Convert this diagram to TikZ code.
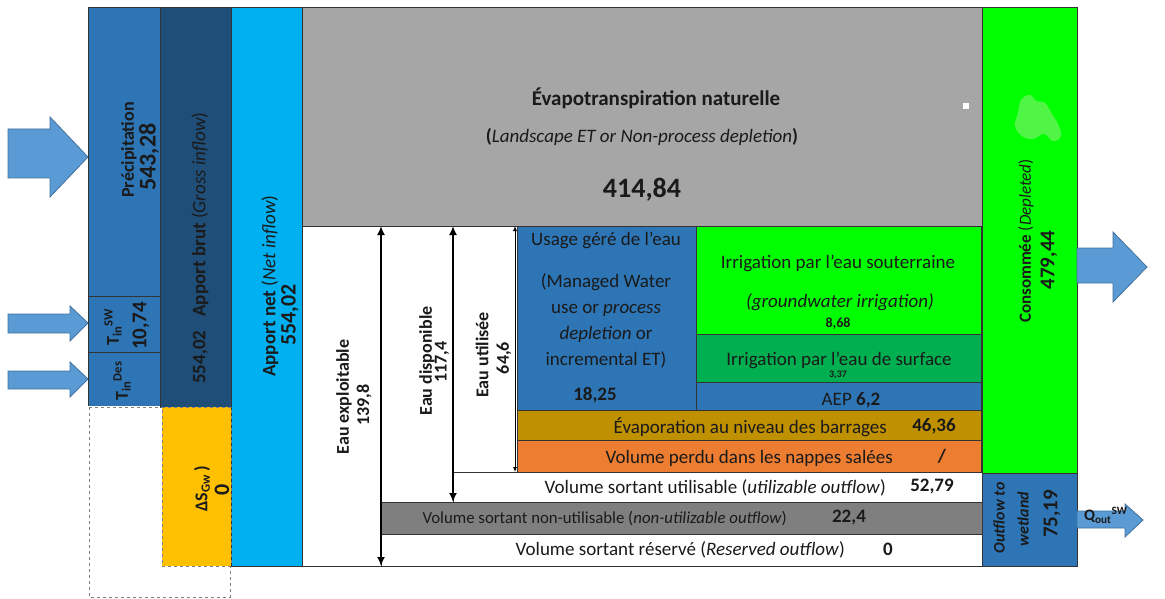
\documentclass[tikz,border=0pt]{standalone}
\usepackage{fontspec}
\setmainfont{Carlito}
\usetikzlibrary{arrows.meta,fit}

\definecolor{cBlue}{HTML}{2E75B6}
\definecolor{cNavy}{HTML}{1F4E79}
\definecolor{cSky}{HTML}{00B0F0}
\definecolor{cGray}{HTML}{A6A6A6}
\definecolor{cLime}{HTML}{00FF00}
\definecolor{cGreen}{HTML}{00B050}
\definecolor{cGold}{HTML}{BF9000}
\definecolor{cOrange}{HTML}{ED7D31}
\definecolor{cDark}{HTML}{7F7F7F}
\definecolor{cYellow}{HTML}{FFC000}
\definecolor{cArrow}{HTML}{5B9BD5}
\definecolor{cArrowLine}{HTML}{41719C}
\definecolor{cEdge}{HTML}{333333}
\definecolor{cInk}{HTML}{1A1A1A}
\definecolor{cBlob}{RGB}{80,245,70}

\newcommand{\setfs}[1]{\fontsize{#1}{#1}\selectfont}

\begin{document}
\begin{tikzpicture}[x=1pt,y=-1pt,
  cell/.style={draw=cEdge, line width=0.8pt, inner sep=0pt},
  lbl/.style={inner sep=0pt, text=cInk, font=\setfs{19}},
  vlbl/.style={lbl, rotate=90},
  val/.style={inner sep=0pt, text=cInk, font=\setfs{19}\bfseries},
  blockarrow/.style={fill=cArrow, draw=cArrowLine, line width=0.8pt, line join=miter},
  dashbox/.style={draw=gray, dashed, line width=0.9pt},
  bigdbl/.style={{Latex[length=9pt,width=8pt]}-{Latex[length=9pt,width=8pt]}, line width=2.4pt, draw=black},
  smalldbl/.style={{Latex[length=5pt,width=4pt]}-{Latex[length=5pt,width=4pt]}, line width=0.8pt, draw=black}
]
\fill[white] (0,0) rectangle (1165,599);
\useasboundingbox (0,0) rectangle (1165,599);

% ---------- inflow arrows ----------
\draw[blockarrow] (8,129) -- (50,129) -- (50,117) -- (88,157) -- (50,197) -- (50,178) -- (8,178) -- cycle;
\draw[blockarrow] (8,314) -- (70,314) -- (70,306) -- (88,323) -- (70,341) -- (70,333) -- (8,333) -- cycle;
\draw[blockarrow] (8,371) -- (70,371) -- (70,362) -- (88,379) -- (70,397) -- (70,389) -- (8,389) -- cycle;

% ---------- inflow columns ----------
\node[cell, fill=cBlue, fit={(88,7)(160,296)}] (prec) {};
\node[cell, fill=cBlue, fit={(88,296)(160,352)}] (tsw) {};
\node[cell, fill=cBlue, fit={(88,352)(160,407)}] (tdes) {};
\node[cell, fill=cNavy, fit={(160,7)(231,407)}] (gross) {};
\node[cell, fill=cSky, fit={(231,7)(302,566)}] (net) {};

% groundwater storage change (dashed)
\draw[white, line width=1.2pt] (88,407) -- (160,407);
\draw[dashbox] (89,407) -- (89,597) -- (230,597) -- (230,566);
\draw[dashbox] (89,407) -- (162,407);
\node[cell, fill=cYellow, draw=gray, dashed, line width=0.9pt, fit={(162,407)(231,566)}] (dsgw) {};

% ---------- depletion and outflow blocks ----------
\node[cell, fill=cGray, fit={(302,7)(982,226)}] (et) {};
\node[cell, fill=white, fit={(302,226)(982,566)}] (avail) {};
\node[cell, fill=cBlue, fit={(517,226)(696,410)}] (usage) {};
\node[cell, fill=cLime, fit={(696,226)(981,334)}] (irgw) {};
\node[cell, fill=cGreen, fit={(696,334)(981,382)}] (irsw) {};
\node[cell, fill=cBlue, fit={(696,382)(981,410)}] (aep) {};
\node[cell, fill=cGold, fit={(517,410)(981,440)}] (evap) {};
\node[cell, fill=cOrange, fit={(517,440)(981,472)}] (saline) {};
\node[cell, fill=white, fit={(453,472)(982,502)}] (util) {};
\node[cell, fill=cDark, fit={(381,502)(982,534)}] (nonutil) {};
\node[cell, fill=white, fit={(381,534)(982,566)}] (reserved) {};
\node[cell, fill=cLime, fit={(982,7)(1077,473)}] (depleted) {};
\node[cell, fill=cBlue, fit={(982,473)(1077,566)}] (wetland) {};

% small marks inside the blocks
\fill[white] (963,103) rectangle (969,109);
\fill[cBlob] plot[smooth cycle, tension=0.7] coordinates {(1021,100) (1030,95) (1036,101) (1045,103) (1052,114) (1058,124) (1061,136) (1053,141) (1044,134) (1033,139) (1022,136) (1015,126) (1018,113)};

% ---------- outflow arrows ----------
\draw[blockarrow] (1077,248) -- (1113,248) -- (1113,232) -- (1147,267) -- (1113,302) -- (1113,283) -- (1077,283) -- cycle;
\draw[blockarrow] (1077,511) -- (1125,511) -- (1125,504) -- (1143,520) -- (1125,537) -- (1125,528) -- (1077,528) -- cycle;

% ---------- water accounting arrows ----------
\coordinate (exT) at (381,226);
\coordinate (exB) at (381,566);
\coordinate (diT) at (453,226);
\coordinate (diB) at (453,502);
\coordinate (usT) at (515,226);
\coordinate (usB) at (515,472);
\draw[bigdbl] (exT) -- (exB);
\draw[bigdbl] (diT) -- (diB);
\draw[smalldbl] (usT) -- (usB);

% ---------- texts: inflows ----------
\node[vlbl, font=\setfs{18}\bfseries] (precL) at (129,150) {Précipitation};
\node[vlbl, font=\setfs{24}\bfseries] (precV) at (149,157) {543,28};
\node[vlbl, font=\setfs{18}\bfseries] (tswL) at (113,327) {T\textsubscript{in}\textsuperscript{SW}};
\node[vlbl, font=\setfs{21}\bfseries] (tswV) at (141,326) {10,74};
\node[vlbl, font=\setfs{18}\bfseries] (tdesL) at (122,381) {T\textsubscript{in}\textsuperscript{Des}};
\node[vlbl, font=\setfs{19}] (grossL) at (200,248) {\textbf{554,02}\hspace{14pt}\textbf{Apport brut} (\textit{Gross inflow})};
\node[vlbl, font=\setfs{19}] (netL) at (270,286) {\textbf{Apport net} (\textit{Net inflow})};
\node[vlbl, font=\setfs{22}\bfseries] (netV) at (290,315) {554,02};
\node[vlbl, font=\setfs{18}\bfseries] (dsL) at (202,489) {ΔS\textsubscript{Gw}\,)};
\node[vlbl, font=\setfs{22}\bfseries] (dsV) at (222,490) {0};

% ---------- texts: landscape ET ----------
\node[lbl, font=\setfs{21}\bfseries] (etL) at (656,98) {Évapotranspiration naturelle};
\node[lbl, font=\setfs{19}] (etS) at (642,137) {\textbf{(}\textit{Landscape ET or Non-process depletion}\textbf{)}};
\node[lbl, font=\setfs{28}\bfseries] (etV) at (642,190) {414,84};

% ---------- texts: accounting arrows ----------
\node[vlbl, font=\setfs{18}\bfseries] (exL) at (344,397) {Eau exploitable};
\node[vlbl, font=\setfs{18}\bfseries] (exV) at (364,405) {139,8};
\node[vlbl, font=\setfs{18}\bfseries] (diL) at (427,361) {Eau disponible};
\node[vlbl, font=\setfs{18}\bfseries] (diV) at (442,362) {117,4};
\node[vlbl, font=\setfs{18}\bfseries] (usL) at (482,355) {Eau utilisée};
\node[vlbl, font=\setfs{18}\bfseries] (usV) at (504,358) {64,6};

% ---------- texts: managed use ----------
\node[lbl] (ugL) at (606,240) {Usage géré de l’eau};
\node[lbl, align=center, font=\fontsize{19}{26}\selectfont] (ugS) at (606,321) {(Managed Water\\use or \textit{process}\\\textit{depletion} or\\incremental ET)};
\node[val] (ugV) at (595,395) {18,25};
\node[lbl] (gwL) at (838,263) {Irrigation par l’eau souterraine};
\node[lbl, font=\setfs{19}\itshape] (gwS) at (840,302) {(groundwater irrigation)};
\node[val, font=\setfs{14}\bfseries] (gwV) at (838,324) {8,68};
\node[lbl] (swL) at (839,360) {Irrigation par l’eau de surface};
\node[val, font=\setfs{10}\bfseries] (swV) at (838,375) {3,37};
\node[lbl] (aepL) at (851,400) {AEP \textbf{6,2}};
\node[lbl, anchor=east] (evL) at (887,427) {Évaporation au niveau des barrages};
\node[val] (evV) at (934,426) {46,36};
\node[lbl, anchor=east] (slL) at (893,458) {Volume perdu dans les nappes salées};
\node[val] (slV) at (942,456) {/};

% ---------- texts: outflows ----------
\node[lbl, anchor=east] (utL) at (886,488) {Volume sortant utilisable (\textit{utilizable outflow})};
\node[val] (utV) at (932,487) {52,79};
\node[lbl, anchor=east, font=\setfs{16.8}] (nuL) at (787,519) {Volume sortant non-utilisable (\textit{non-utilizable outflow})};
\node[val] (nuV) at (849,518) {22,4};
\node[lbl, anchor=east] (rsL) at (845,550) {Volume sortant réservé (\textit{Reserved outflow})};
\node[val] (rsV) at (888,549) {0};

% ---------- texts: depletion and wetland outflow ----------
\node[vlbl, font=\setfs{17}] (cnL) at (1026,241) {\textbf{Consommée} (\textit{Depleted})};
\node[vlbl, font=\setfs{21}\bfseries] (cnV) at (1049,260) {479,44};
\node[vlbl, font=\setfs{16}\bfseries\itshape] (wtL1) at (999,518) {Outflow to};
\node[vlbl, font=\setfs{16}\bfseries\itshape] (wtL2) at (1023,519) {wetland};
\node[vlbl, font=\setfs{21}\bfseries] (wtV) at (1052,514) {75,19};
\node[lbl, anchor=west, font=\setfs{16}\bfseries] (qL) at (1084,515) {Q\textsubscript{out}\textsuperscript{SW}};
\end{tikzpicture}
\end{document}
